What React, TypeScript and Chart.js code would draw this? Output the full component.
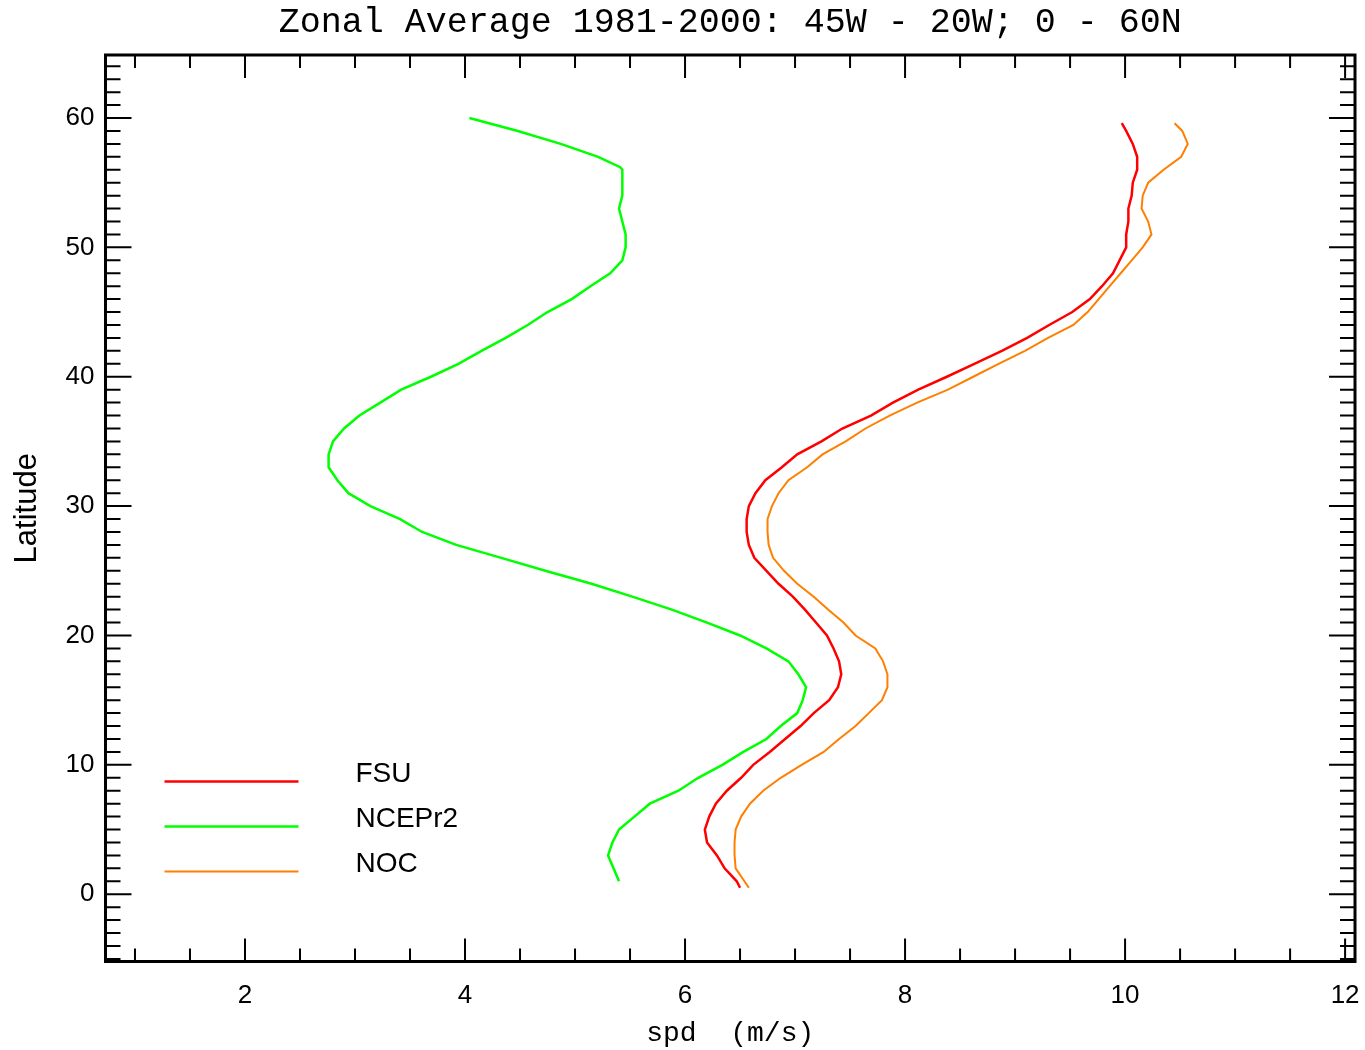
import React, { useEffect, useRef } from "react";
import { Chart, registerables } from "chart.js";

Chart.register(...registerables);

// ---- text ----
const titleText = "Zonal Average 1981-2000: 45W - 20W; 0 - 60N";
const xAxisTitle = "spd  (m/s)";
const yAxisTitle = "Latitude";
const seriesNames = ["FSU", "NCEPr2", "NOC"];

// ---- axes ----
const xRange = [0.732, 12.09];
const yRange = [-5.2, 64.87];
const xTickValues = [2, 4, 6, 8, 10, 12];
const yTickValues = [0, 10, 20, 30, 40, 50, 60];

// ---- data (latitude, wind speed m/s) ----
const fsuLat = [0.5, 1, 2, 3, 4, 5, 6, 7, 8, 9, 10, 11, 12, 13, 14, 15, 16, 17, 18, 19, 20, 21, 22, 23, 24, 25, 26, 27, 28, 29, 30, 31, 32, 33, 34, 35, 36, 37, 38, 39, 40, 41, 42, 43, 44, 45, 46, 47, 48, 49, 50, 51, 52, 53, 54, 55, 56, 57, 58, 59, 59.6];
const fsuSpd = [6.50, 6.47, 6.36, 6.29, 6.20, 6.18, 6.22, 6.28, 6.38, 6.51, 6.62, 6.77, 6.91, 7.05, 7.17, 7.31, 7.39, 7.42, 7.40, 7.35, 7.29, 7.19, 7.09, 6.98, 6.85, 6.74, 6.63, 6.58, 6.56, 6.56, 6.58, 6.64, 6.73, 6.88, 7.02, 7.24, 7.43, 7.69, 7.89, 8.12, 8.38, 8.63, 8.88, 9.11, 9.31, 9.52, 9.68, 9.79, 9.89, 9.95, 10.01, 10.01, 10.03, 10.03, 10.06, 10.07, 10.11, 10.11, 10.07, 10.01, 9.97];

const ncepLat = [1, 2, 3, 4, 5, 6, 7, 8, 9, 10, 11, 12, 13, 14, 15, 16, 17, 18, 19, 20, 21, 22, 23, 24, 25, 26, 27, 28, 29, 30, 31, 32, 33, 34, 35, 36, 37, 38, 39, 40, 41, 42, 43, 44, 45, 46, 47, 48, 49, 50, 51, 52, 53, 54, 55, 56, 56.2, 57, 58, 59, 60];
const ncepSpd = [5.40, 5.35, 5.30, 5.34, 5.40, 5.54, 5.68, 5.94, 6.12, 6.34, 6.53, 6.74, 6.87, 7.02, 7.07, 7.10, 7.03, 6.94, 6.74, 6.50, 6.20, 5.88, 5.52, 5.15, 4.73, 4.33, 3.92, 3.61, 3.41, 3.14, 2.94, 2.84, 2.76, 2.76, 2.80, 2.90, 3.04, 3.23, 3.42, 3.69, 3.94, 4.15, 4.37, 4.57, 4.75, 4.97, 5.14, 5.32, 5.43, 5.46, 5.46, 5.43, 5.40, 5.43, 5.43, 5.43, 5.41, 5.21, 4.87, 4.48, 4.04];

const nocLat = [0.5, 1, 2, 3, 4, 5, 6, 7, 8, 9, 10, 11, 12, 13, 14, 15, 16, 17, 18, 19, 20, 21, 22, 23, 24, 25, 26, 27, 28, 29, 30, 31, 32, 33, 34, 35, 36, 37, 38, 39, 40, 41, 42, 43, 44, 45, 46, 47, 48, 49, 50, 51, 52, 53, 54, 55, 56, 57, 58, 59, 59.6];
const nocSpd = [6.58, 6.54, 6.46, 6.45, 6.45, 6.46, 6.51, 6.59, 6.71, 6.87, 7.06, 7.26, 7.40, 7.55, 7.67, 7.79, 7.84, 7.84, 7.80, 7.73, 7.55, 7.44, 7.30, 7.17, 7.02, 6.90, 6.80, 6.76, 6.75, 6.75, 6.79, 6.85, 6.94, 7.11, 7.25, 7.46, 7.64, 7.86, 8.11, 8.39, 8.62, 8.85, 9.09, 9.30, 9.53, 9.66, 9.76, 9.86, 9.96, 10.06, 10.16, 10.24, 10.21, 10.15, 10.16, 10.21, 10.35, 10.51, 10.57, 10.52, 10.45];

const seriesColors = ["#ff0000", "#00ff00", "#ff7f00"];
const seriesWidths = [2.5, 2.5, 2];

const toPoints = (lat: number[], spd: number[]) => lat.map((y, i) => ({ x: spd[i], y }));

const framePlugin = {
  id: "frameTicks",
  afterDatasetsDraw(chart: any) {
    const { ctx, chartArea: a, scales } = chart;
    const xs = scales.x;
    const ys = scales.y;
    ctx.save();
    ctx.strokeStyle = "#000";
    ctx.lineWidth = 2;
    ctx.beginPath();
    for (let k = Math.ceil(xs.min * 2); k <= Math.floor(xs.max * 2); k++) {
      const v = k / 2;
      const major = k % 4 === 0;
      const len = major ? 23 : 13;
      const px = xs.getPixelForValue(v);
      ctx.moveTo(px, a.bottom);
      ctx.lineTo(px, a.bottom - len);
      ctx.moveTo(px, a.top);
      ctx.lineTo(px, a.top + len);
    }
    for (let v = Math.ceil(ys.min); v <= Math.floor(ys.max); v++) {
      const major = v % 10 === 0;
      const len = major ? 26 : 15;
      const py = ys.getPixelForValue(v);
      ctx.moveTo(a.left, py);
      ctx.lineTo(a.left + len, py);
      ctx.moveTo(a.right, py);
      ctx.lineTo(a.right - len, py);
    }
    ctx.stroke();
    ctx.lineWidth = 3;
    ctx.strokeRect(a.left, a.top, a.right - a.left, a.bottom - a.top);
    ctx.restore();
  },
};

const legendPlugin = {
  id: "insetLegend",
  afterDatasetsDraw(chart: any) {
    const { ctx, chartArea: a } = chart;
    ctx.save();
    chart.data.datasets.forEach((ds: any, i: number) => {
      const y = a.bottom - 180 + i * 45;
      ctx.strokeStyle = ds.borderColor;
      ctx.lineWidth = ds.borderWidth;
      ctx.beginPath();
      ctx.moveTo(a.left + 59, y);
      ctx.lineTo(a.left + 193, y);
      ctx.stroke();
      ctx.fillStyle = "#000";
      ctx.font = "28px 'Liberation Sans', sans-serif";
      ctx.textBaseline = "middle";
      ctx.textAlign = "left";
      ctx.fillText(ds.label, a.left + 250, y - 7);
    });
    ctx.restore();
  },
};

const zeroPad = (s: any) => {
  s.paddingLeft = 0;
  s.paddingRight = 0;
  s.paddingTop = 0;
  s.paddingBottom = 0;
};

export default function App() {
  const canvasRef = useRef<HTMLCanvasElement | null>(null);

  useEffect(() => {
    const canvas = canvasRef.current;
    if (!canvas) return;
    Chart.defaults.font.family = "'Liberation Sans', sans-serif";
    Chart.defaults.color = "#000";
    const chart = new Chart(canvas, {
      type: "scatter",
      data: {
        datasets: [
          { label: seriesNames[0], data: toPoints(fsuLat, fsuSpd) },
          { label: seriesNames[1], data: toPoints(ncepLat, ncepSpd) },
          { label: seriesNames[2], data: toPoints(nocLat, nocSpd) },
        ].map((d, i) => ({
          ...d,
          showLine: true,
          borderColor: seriesColors[i],
          backgroundColor: seriesColors[i],
          borderWidth: seriesWidths[i],
          pointRadius: 0,
          tension: 0,
        })),
      },
      options: {
        responsive: false,
        animation: false,
        devicePixelRatio: 1,
        layout: { padding: { left: 0, right: 10, top: 0, bottom: 0 } },
        plugins: {
          legend: { display: false },
          tooltip: { enabled: false },
          title: {
            display: true,
            fullSize: false,
            text: titleText,
            color: "#000",
            font: { family: "'Liberation Mono', monospace", size: 35, weight: "normal" },
            padding: { top: 2, bottom: 11 },
          },
        },
        scales: {
          x: {
            type: "linear",
            position: "bottom",
            min: xRange[0],
            max: xRange[1],
            grid: { display: false, drawTicks: false },
            border: { display: false },
            afterBuildTicks: (s: any) => {
              s.ticks = xTickValues.map((v) => ({ value: v }));
            },
            afterFit: (s: any) => {
              s.height = 88.5;
              zeroPad(s);
            },
            ticks: {
              color: "#000",
              font: { size: 26 },
              padding: 19,
              maxRotation: 0,
              autoSkip: false,
              callback: (v: any) => String(v),
            },
            title: {
              display: true,
              text: xAxisTitle,
              color: "#000",
              font: { family: "'Liberation Mono', monospace", size: 28 },
              padding: { top: 0, bottom: 0 },
            },
          },
          y: {
            type: "linear",
            position: "left",
            min: yRange[0],
            max: yRange[1],
            grid: { display: false, drawTicks: false },
            border: { display: false },
            afterBuildTicks: (s: any) => {
              s.ticks = yTickValues.map((v) => ({ value: v }));
            },
            afterFit: (s: any) => {
              s.width = 105.5;
              zeroPad(s);
            },
            ticks: {
              color: "#000",
              font: { size: 26 },
              padding: 11,
              autoSkip: false,
              callback: (v: any) => String(v),
            },
            title: {
              display: true,
              text: yAxisTitle,
              color: "#000",
              font: { size: 31 },
              padding: { top: 9, bottom: 0 },
            },
          },
        },
      },
      plugins: [framePlugin, legendPlugin],
    } as any);
    return () => chart.destroy();
  }, []);

  return (
    <div style={{ position: "absolute", left: 0, top: 0, width: 1365, height: 1050, background: "#fff" }}>
      <canvas ref={canvasRef} width={1365} height={1050} />
    </div>
  );
}
